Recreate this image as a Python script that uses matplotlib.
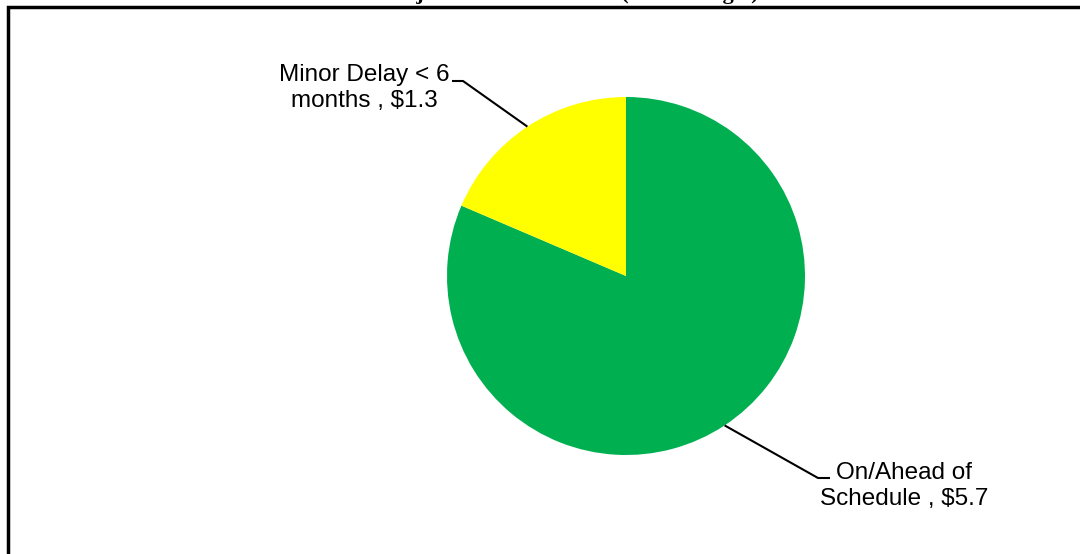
import numpy as np
import matplotlib.pyplot as plt
from matplotlib.patches import Rectangle

# budget by schedule status, $ billions
labels = ["On/Ahead of\nSchedule , $5.7", "Minor Delay < 6\nmonths , $1.3"]
values = [5.7, 1.3]
colors = ["#00B050", "#FFFF00"]

W, H = 1080, 554
fig = plt.figure(figsize=(W / 100, H / 100), dpi=100)
ax = fig.add_axes([0, 0, 1, 1])

center = (626, H - 276)
radius = 179
wedges, _ = ax.pie(values, colors=colors, startangle=90, counterclock=False,
                   center=center, radius=radius, frame=True)
ax.set_xlim(0, W)
ax.set_ylim(0, H)
ax.set_aspect("equal")
ax.axis("off")

font = ["Liberation Sans Narrow", "Liberation Sans", "DejaVu Sans"]

# label positions (pixels from top-left) and leader elbows
text_pos = [(904, 486), (364, 88)]
elbows = [((818, 478), (830, 478)), ((463, 81), (452, 81))]

for w, lab, (tx, ty), (e1, e2) in zip(wedges, labels, text_pos, elbows):
    ang = np.deg2rad((w.theta1 + w.theta2) / 2)
    ax0 = center[0] + radius * np.cos(ang)
    ay0 = center[1] + radius * np.sin(ang)
    ax.plot([ax0, e1[0], e2[0]], [ay0, H - e1[1], H - e2[1]],
            color="black", lw=1.5, solid_capstyle="butt")
    ax.text(tx, H - ty, lab, ha="center", va="center", multialignment="center",
            fontsize=17.5, family=font, linespacing=1.2)

# outer frame
fig.patches.append(Rectangle((7.5 / W, -0.1), 1.2, 1.1 - 7 / H,
                             transform=fig.transFigure, fill=False,
                             edgecolor="black", lw=2.5))

# title sits just above the top edge
fig.text(570 / W, 1.0 + 1.0 / H, "Projects Schedule Status (Total Budget)",
         ha="center", va="baseline", fontsize=16, fontweight="bold",
         family=["Liberation Serif", "DejaVu Serif"])

fig.savefig("out.png", dpi=100)
